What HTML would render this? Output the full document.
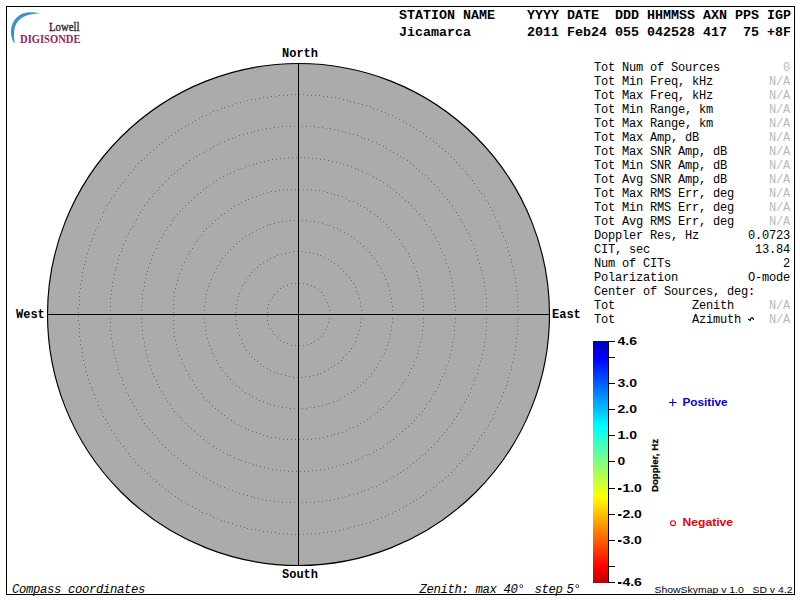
<!DOCTYPE html>
<html><head><meta charset="utf-8"><style>
html,body{margin:0;padding:0;background:#fff;width:800px;height:600px;overflow:hidden}
svg{display:block}
.m{font-family:"Liberation Mono",monospace;font-size:12px;letter-spacing:-0.2px;fill:#000}
.hb{font-family:"Liberation Mono",monospace;font-size:13.33px;font-weight:bold;fill:#000}
.cmp{font-family:"Liberation Mono",monospace;font-size:12px;font-weight:bold;fill:#000}
.cl{font-family:"Liberation Sans",sans-serif;font-size:11px;font-weight:bold;fill:#000}
.it{font-family:"Liberation Mono",monospace;font-size:12.3px;letter-spacing:-0.38px;font-style:italic;fill:#000}
.sm{font-family:"Liberation Sans",sans-serif;font-size:9.6px;fill:#000}
</style></head><body>
<svg width="800" height="600" viewBox="0 0 800 600">
<defs>
<linearGradient id="jet" x1="0" y1="0" x2="0" y2="1">
<stop offset="0" stop-color="#0000c0"/>
<stop offset="0.07" stop-color="#0000ff"/>
<stop offset="0.355" stop-color="#00ffff"/>
<stop offset="0.5" stop-color="#80ff80"/>
<stop offset="0.645" stop-color="#ffff00"/>
<stop offset="0.93" stop-color="#ff0000"/>
<stop offset="1" stop-color="#c00000"/>
</linearGradient>
</defs>
<rect x="6.5" y="6.5" width="788" height="588" fill="none" stroke="#000" stroke-width="1"/>
<!-- logo -->
<path d="M40,13.6 C31,11 21.5,12.3 16.5,17.8 C12,22.3 10.7,28.5 11,33 C11.2,37 12.3,40.5 14.3,43.2 L14.7,43.2 C14.1,39 13.9,35 14.3,30.5 C15,24.5 18.5,19.8 22.7,17.3 C27.5,14.5 33,13.8 40,13.6 Z" fill="#3a95c3"/>
<text x="49" y="31.4" textLength="30.5" lengthAdjust="spacingAndGlyphs" style="font-family:'Liberation Serif',serif;font-size:12px;fill:#2c2830;stroke:#2c2830;stroke-width:0.35px">Lowell</text>
<text x="20" y="43.4" textLength="60.5" lengthAdjust="spacingAndGlyphs" style="font-family:'Liberation Serif',serif;font-size:11.5px;font-weight:bold;fill:#991f5c">DIGISONDE</text>
<!-- header -->
<text x="399" y="19" class="hb">STATION&#160;NAME&#160;&#160;&#160;&#160;YYYY&#160;DATE&#160;&#160;DDD&#160;HHMMSS&#160;AXN&#160;PPS&#160;IGP</text>
<text x="399" y="36" class="hb">Jicamarca&#160;&#160;&#160;&#160;&#160;&#160;&#160;2011&#160;Feb24&#160;055&#160;042528&#160;417&#160;&#160;75&#160;+8F</text>
<!-- skymap -->
<circle cx="298.5" cy="314.5" r="251" fill="#ababab" stroke="none"/>
<path fill="#6e6e6e" d="M329,318h1v1h-1zM328,322h1v1h-1zM327,326h1v1h-1zM325,329h1v1h-1zM323,333h1v1h-1zM321,336h1v1h-1zM318,339h1v1h-1zM314,341h1v1h-1zM311,343h1v1h-1zM307,344h1v1h-1zM303,345h1v1h-1zM299,345h1v1h-1zM295,345h1v1h-1zM291,345h1v1h-1zM287,343h1v1h-1zM283,342h1v1h-1zM280,340h1v1h-1zM277,337h1v1h-1zM274,334h1v1h-1zM272,331h1v1h-1zM270,328h1v1h-1zM268,324h1v1h-1zM267,320h1v1h-1zM267,316h1v1h-1zM267,312h1v1h-1zM267,308h1v1h-1zM268,304h1v1h-1zM270,300h1v1h-1zM272,297h1v1h-1zM274,294h1v1h-1zM277,291h1v1h-1zM280,288h1v1h-1zM283,286h1v1h-1zM287,285h1v1h-1zM291,283h1v1h-1zM295,283h1v1h-1zM299,283h1v1h-1zM303,283h1v1h-1zM307,284h1v1h-1zM311,285h1v1h-1zM314,287h1v1h-1zM318,289h1v1h-1zM321,292h1v1h-1zM323,295h1v1h-1zM325,299h1v1h-1zM327,302h1v1h-1zM328,306h1v1h-1zM329,310h1v1h-1zM361,318h1v1h-1zM360,322h1v1h-1zM360,326h1v1h-1zM359,330h1v1h-1zM358,334h1v1h-1zM356,337h1v1h-1zM355,341h1v1h-1zM353,345h1v1h-1zM351,348h1v1h-1zM349,351h1v1h-1zM346,354h1v1h-1zM343,357h1v1h-1zM341,360h1v1h-1zM338,363h1v1h-1zM334,365h1v1h-1zM331,367h1v1h-1zM328,369h1v1h-1zM324,371h1v1h-1zM320,373h1v1h-1zM317,374h1v1h-1zM313,375h1v1h-1zM309,376h1v1h-1zM305,376h1v1h-1zM301,377h1v1h-1zM297,377h1v1h-1zM293,377h1v1h-1zM289,376h1v1h-1zM285,375h1v1h-1zM281,374h1v1h-1zM277,373h1v1h-1zM274,372h1v1h-1zM270,370h1v1h-1zM267,368h1v1h-1zM263,366h1v1h-1zM260,364h1v1h-1zM257,361h1v1h-1zM254,359h1v1h-1zM251,356h1v1h-1zM249,353h1v1h-1zM246,350h1v1h-1zM244,346h1v1h-1zM242,343h1v1h-1zM241,339h1v1h-1zM239,335h1v1h-1zM238,332h1v1h-1zM237,328h1v1h-1zM236,324h1v1h-1zM236,320h1v1h-1zM235,316h1v1h-1zM235,312h1v1h-1zM236,308h1v1h-1zM236,304h1v1h-1zM237,300h1v1h-1zM238,296h1v1h-1zM239,293h1v1h-1zM241,289h1v1h-1zM242,285h1v1h-1zM244,282h1v1h-1zM246,278h1v1h-1zM249,275h1v1h-1zM251,272h1v1h-1zM254,269h1v1h-1zM257,267h1v1h-1zM260,264h1v1h-1zM263,262h1v1h-1zM267,260h1v1h-1zM270,258h1v1h-1zM274,256h1v1h-1zM277,255h1v1h-1zM281,254h1v1h-1zM285,253h1v1h-1zM289,252h1v1h-1zM293,251h1v1h-1zM297,251h1v1h-1zM301,251h1v1h-1zM305,252h1v1h-1zM309,252h1v1h-1zM313,253h1v1h-1zM317,254h1v1h-1zM320,255h1v1h-1zM324,257h1v1h-1zM328,259h1v1h-1zM331,261h1v1h-1zM334,263h1v1h-1zM338,265h1v1h-1zM341,268h1v1h-1zM343,271h1v1h-1zM346,274h1v1h-1zM349,277h1v1h-1zM351,280h1v1h-1zM353,283h1v1h-1zM355,287h1v1h-1zM356,291h1v1h-1zM358,294h1v1h-1zM359,298h1v1h-1zM360,302h1v1h-1zM360,306h1v1h-1zM361,310h1v1h-1zM392,318h1v1h-1zM392,322h1v1h-1zM391,326h1v1h-1zM391,330h1v1h-1zM390,334h1v1h-1zM389,338h1v1h-1zM388,342h1v1h-1zM387,345h1v1h-1zM385,349h1v1h-1zM384,353h1v1h-1zM382,356h1v1h-1zM380,360h1v1h-1zM378,363h1v1h-1zM376,367h1v1h-1zM374,370h1v1h-1zM371,373h1v1h-1zM369,376h1v1h-1zM366,379h1v1h-1zM363,382h1v1h-1zM360,385h1v1h-1zM357,387h1v1h-1zM354,390h1v1h-1zM351,392h1v1h-1zM347,394h1v1h-1zM344,396h1v1h-1zM340,398h1v1h-1zM337,400h1v1h-1zM333,401h1v1h-1zM329,403h1v1h-1zM326,404h1v1h-1zM322,405h1v1h-1zM318,406h1v1h-1zM314,407h1v1h-1zM310,407h1v1h-1zM306,408h1v1h-1zM302,408h1v1h-1zM294,408h1v1h-1zM290,408h1v1h-1zM286,407h1v1h-1zM282,407h1v1h-1zM278,406h1v1h-1zM274,405h1v1h-1zM270,404h1v1h-1zM267,403h1v1h-1zM263,401h1v1h-1zM259,400h1v1h-1zM256,398h1v1h-1zM252,396h1v1h-1zM249,394h1v1h-1zM245,392h1v1h-1zM242,390h1v1h-1zM239,387h1v1h-1zM236,385h1v1h-1zM233,382h1v1h-1zM230,379h1v1h-1zM227,376h1v1h-1zM225,373h1v1h-1zM222,370h1v1h-1zM220,367h1v1h-1zM218,363h1v1h-1zM216,360h1v1h-1zM214,356h1v1h-1zM212,353h1v1h-1zM211,349h1v1h-1zM209,345h1v1h-1zM208,342h1v1h-1zM207,338h1v1h-1zM206,334h1v1h-1zM205,330h1v1h-1zM205,326h1v1h-1zM204,322h1v1h-1zM204,318h1v1h-1zM204,310h1v1h-1zM204,306h1v1h-1zM205,302h1v1h-1zM205,298h1v1h-1zM206,294h1v1h-1zM207,290h1v1h-1zM208,286h1v1h-1zM209,283h1v1h-1zM211,279h1v1h-1zM212,275h1v1h-1zM214,272h1v1h-1zM216,268h1v1h-1zM218,265h1v1h-1zM220,261h1v1h-1zM222,258h1v1h-1zM225,255h1v1h-1zM227,252h1v1h-1zM230,249h1v1h-1zM233,246h1v1h-1zM236,243h1v1h-1zM239,241h1v1h-1zM242,238h1v1h-1zM245,236h1v1h-1zM249,234h1v1h-1zM252,232h1v1h-1zM256,230h1v1h-1zM259,228h1v1h-1zM263,227h1v1h-1zM267,225h1v1h-1zM270,224h1v1h-1zM274,223h1v1h-1zM278,222h1v1h-1zM282,221h1v1h-1zM286,221h1v1h-1zM290,220h1v1h-1zM294,220h1v1h-1zM302,220h1v1h-1zM306,220h1v1h-1zM310,221h1v1h-1zM314,221h1v1h-1zM318,222h1v1h-1zM322,223h1v1h-1zM326,224h1v1h-1zM329,225h1v1h-1zM333,227h1v1h-1zM337,228h1v1h-1zM340,230h1v1h-1zM344,232h1v1h-1zM347,234h1v1h-1zM351,236h1v1h-1zM354,238h1v1h-1zM357,241h1v1h-1zM360,243h1v1h-1zM363,246h1v1h-1zM366,249h1v1h-1zM369,252h1v1h-1zM371,255h1v1h-1zM374,258h1v1h-1zM376,261h1v1h-1zM378,265h1v1h-1zM380,268h1v1h-1zM382,272h1v1h-1zM384,275h1v1h-1zM385,279h1v1h-1zM387,283h1v1h-1zM388,286h1v1h-1zM389,290h1v1h-1zM390,294h1v1h-1zM391,298h1v1h-1zM391,302h1v1h-1zM392,306h1v1h-1zM392,310h1v1h-1zM423,318h1v1h-1zM423,322h1v1h-1zM423,326h1v1h-1zM422,330h1v1h-1zM422,334h1v1h-1zM421,338h1v1h-1zM420,342h1v1h-1zM419,346h1v1h-1zM418,350h1v1h-1zM417,353h1v1h-1zM416,357h1v1h-1zM414,361h1v1h-1zM413,365h1v1h-1zM411,368h1v1h-1zM409,372h1v1h-1zM408,375h1v1h-1zM405,379h1v1h-1zM403,382h1v1h-1zM401,385h1v1h-1zM399,389h1v1h-1zM396,392h1v1h-1zM394,395h1v1h-1zM391,398h1v1h-1zM388,401h1v1h-1zM386,404h1v1h-1zM383,407h1v1h-1zM380,409h1v1h-1zM377,412h1v1h-1zM374,414h1v1h-1zM370,417h1v1h-1zM367,419h1v1h-1zM364,421h1v1h-1zM360,423h1v1h-1zM357,425h1v1h-1zM353,427h1v1h-1zM349,428h1v1h-1zM346,430h1v1h-1zM342,432h1v1h-1zM338,433h1v1h-1zM334,434h1v1h-1zM331,435h1v1h-1zM327,436h1v1h-1zM323,437h1v1h-1zM319,438h1v1h-1zM315,438h1v1h-1zM311,439h1v1h-1zM307,439h1v1h-1zM303,439h1v1h-1zM299,439h1v1h-1zM295,439h1v1h-1zM291,439h1v1h-1zM287,439h1v1h-1zM283,439h1v1h-1zM279,438h1v1h-1zM275,437h1v1h-1zM271,437h1v1h-1zM267,436h1v1h-1zM263,435h1v1h-1zM260,433h1v1h-1zM256,432h1v1h-1zM252,431h1v1h-1zM248,429h1v1h-1zM245,428h1v1h-1zM241,426h1v1h-1zM238,424h1v1h-1zM234,422h1v1h-1zM231,420h1v1h-1zM227,418h1v1h-1zM224,415h1v1h-1zM221,413h1v1h-1zM218,410h1v1h-1zM215,408h1v1h-1zM212,405h1v1h-1zM209,402h1v1h-1zM206,400h1v1h-1zM203,397h1v1h-1zM201,393h1v1h-1zM198,390h1v1h-1zM196,387h1v1h-1zM194,384h1v1h-1zM192,380h1v1h-1zM189,377h1v1h-1zM188,374h1v1h-1zM186,370h1v1h-1zM184,366h1v1h-1zM182,363h1v1h-1zM181,359h1v1h-1zM179,355h1v1h-1zM178,351h1v1h-1zM177,348h1v1h-1zM176,344h1v1h-1zM175,340h1v1h-1zM174,336h1v1h-1zM174,332h1v1h-1zM173,328h1v1h-1zM173,324h1v1h-1zM173,320h1v1h-1zM173,316h1v1h-1zM173,312h1v1h-1zM173,308h1v1h-1zM173,304h1v1h-1zM173,300h1v1h-1zM174,296h1v1h-1zM174,292h1v1h-1zM175,288h1v1h-1zM176,284h1v1h-1zM177,280h1v1h-1zM178,277h1v1h-1zM179,273h1v1h-1zM181,269h1v1h-1zM182,265h1v1h-1zM184,262h1v1h-1zM186,258h1v1h-1zM188,254h1v1h-1zM189,251h1v1h-1zM192,248h1v1h-1zM194,244h1v1h-1zM196,241h1v1h-1zM198,238h1v1h-1zM201,235h1v1h-1zM203,231h1v1h-1zM206,228h1v1h-1zM209,226h1v1h-1zM212,223h1v1h-1zM215,220h1v1h-1zM218,218h1v1h-1zM221,215h1v1h-1zM224,213h1v1h-1zM227,210h1v1h-1zM231,208h1v1h-1zM234,206h1v1h-1zM238,204h1v1h-1zM241,202h1v1h-1zM245,200h1v1h-1zM248,199h1v1h-1zM252,197h1v1h-1zM256,196h1v1h-1zM260,195h1v1h-1zM263,193h1v1h-1zM267,192h1v1h-1zM271,191h1v1h-1zM275,191h1v1h-1zM279,190h1v1h-1zM283,189h1v1h-1zM287,189h1v1h-1zM291,189h1v1h-1zM295,189h1v1h-1zM299,189h1v1h-1zM303,189h1v1h-1zM307,189h1v1h-1zM311,189h1v1h-1zM315,190h1v1h-1zM319,190h1v1h-1zM323,191h1v1h-1zM327,192h1v1h-1zM331,193h1v1h-1zM334,194h1v1h-1zM338,195h1v1h-1zM342,196h1v1h-1zM346,198h1v1h-1zM349,200h1v1h-1zM353,201h1v1h-1zM357,203h1v1h-1zM360,205h1v1h-1zM364,207h1v1h-1zM367,209h1v1h-1zM370,211h1v1h-1zM374,214h1v1h-1zM377,216h1v1h-1zM380,219h1v1h-1zM383,221h1v1h-1zM386,224h1v1h-1zM388,227h1v1h-1zM391,230h1v1h-1zM394,233h1v1h-1zM396,236h1v1h-1zM399,239h1v1h-1zM401,243h1v1h-1zM403,246h1v1h-1zM405,249h1v1h-1zM408,253h1v1h-1zM409,256h1v1h-1zM411,260h1v1h-1zM413,263h1v1h-1zM414,267h1v1h-1zM416,271h1v1h-1zM417,275h1v1h-1zM418,278h1v1h-1zM419,282h1v1h-1zM420,286h1v1h-1zM421,290h1v1h-1zM422,294h1v1h-1zM422,298h1v1h-1zM423,302h1v1h-1zM423,306h1v1h-1zM423,310h1v1h-1zM455,318h1v1h-1zM455,322h1v1h-1zM454,326h1v1h-1zM454,330h1v1h-1zM454,334h1v1h-1zM453,338h1v1h-1zM452,342h1v1h-1zM452,346h1v1h-1zM451,350h1v1h-1zM450,354h1v1h-1zM449,357h1v1h-1zM448,361h1v1h-1zM446,365h1v1h-1zM445,369h1v1h-1zM444,373h1v1h-1zM442,376h1v1h-1zM440,380h1v1h-1zM439,384h1v1h-1zM437,387h1v1h-1zM435,391h1v1h-1zM433,394h1v1h-1zM431,398h1v1h-1zM429,401h1v1h-1zM426,404h1v1h-1zM424,408h1v1h-1zM422,411h1v1h-1zM419,414h1v1h-1zM416,417h1v1h-1zM414,420h1v1h-1zM411,423h1v1h-1zM408,426h1v1h-1zM405,428h1v1h-1zM402,431h1v1h-1zM399,434h1v1h-1zM396,436h1v1h-1zM393,439h1v1h-1zM390,441h1v1h-1zM387,443h1v1h-1zM383,446h1v1h-1zM380,448h1v1h-1zM376,450h1v1h-1zM373,452h1v1h-1zM369,454h1v1h-1zM366,455h1v1h-1zM362,457h1v1h-1zM358,459h1v1h-1zM355,460h1v1h-1zM351,462h1v1h-1zM347,463h1v1h-1zM343,464h1v1h-1zM340,465h1v1h-1zM336,466h1v1h-1zM332,467h1v1h-1zM328,468h1v1h-1zM324,469h1v1h-1zM320,469h1v1h-1zM316,470h1v1h-1zM312,470h1v1h-1zM308,471h1v1h-1zM304,471h1v1h-1zM300,471h1v1h-1zM296,471h1v1h-1zM292,471h1v1h-1zM288,471h1v1h-1zM284,470h1v1h-1zM280,470h1v1h-1zM276,469h1v1h-1zM272,469h1v1h-1zM268,468h1v1h-1zM264,467h1v1h-1zM260,466h1v1h-1zM256,465h1v1h-1zM253,464h1v1h-1zM249,463h1v1h-1zM245,462h1v1h-1zM241,460h1v1h-1zM238,459h1v1h-1zM234,457h1v1h-1zM230,455h1v1h-1zM227,454h1v1h-1zM223,452h1v1h-1zM220,450h1v1h-1zM216,448h1v1h-1zM213,446h1v1h-1zM209,443h1v1h-1zM206,441h1v1h-1zM203,439h1v1h-1zM200,436h1v1h-1zM197,434h1v1h-1zM194,431h1v1h-1zM191,428h1v1h-1zM188,426h1v1h-1zM185,423h1v1h-1zM182,420h1v1h-1zM180,417h1v1h-1zM177,414h1v1h-1zM174,411h1v1h-1zM172,408h1v1h-1zM170,404h1v1h-1zM167,401h1v1h-1zM165,398h1v1h-1zM163,394h1v1h-1zM161,391h1v1h-1zM159,387h1v1h-1zM157,384h1v1h-1zM156,380h1v1h-1zM154,376h1v1h-1zM152,373h1v1h-1zM151,369h1v1h-1zM150,365h1v1h-1zM148,361h1v1h-1zM147,357h1v1h-1zM146,354h1v1h-1zM145,350h1v1h-1zM144,346h1v1h-1zM144,342h1v1h-1zM143,338h1v1h-1zM142,334h1v1h-1zM142,330h1v1h-1zM142,326h1v1h-1zM141,322h1v1h-1zM141,318h1v1h-1zM141,310h1v1h-1zM141,306h1v1h-1zM142,302h1v1h-1zM142,298h1v1h-1zM142,294h1v1h-1zM143,290h1v1h-1zM144,286h1v1h-1zM144,282h1v1h-1zM145,278h1v1h-1zM146,274h1v1h-1zM147,271h1v1h-1zM148,267h1v1h-1zM150,263h1v1h-1zM151,259h1v1h-1zM152,255h1v1h-1zM154,252h1v1h-1zM156,248h1v1h-1zM157,244h1v1h-1zM159,241h1v1h-1zM161,237h1v1h-1zM163,234h1v1h-1zM165,230h1v1h-1zM167,227h1v1h-1zM170,224h1v1h-1zM172,220h1v1h-1zM174,217h1v1h-1zM177,214h1v1h-1zM180,211h1v1h-1zM182,208h1v1h-1zM185,205h1v1h-1zM188,202h1v1h-1zM191,200h1v1h-1zM194,197h1v1h-1zM197,194h1v1h-1zM200,192h1v1h-1zM203,189h1v1h-1zM206,187h1v1h-1zM209,185h1v1h-1zM213,182h1v1h-1zM216,180h1v1h-1zM220,178h1v1h-1zM223,176h1v1h-1zM227,174h1v1h-1zM230,173h1v1h-1zM234,171h1v1h-1zM238,169h1v1h-1zM241,168h1v1h-1zM245,166h1v1h-1zM249,165h1v1h-1zM253,164h1v1h-1zM256,163h1v1h-1zM260,162h1v1h-1zM264,161h1v1h-1zM268,160h1v1h-1zM272,159h1v1h-1zM276,159h1v1h-1zM280,158h1v1h-1zM284,158h1v1h-1zM288,157h1v1h-1zM292,157h1v1h-1zM296,157h1v1h-1zM300,157h1v1h-1zM304,157h1v1h-1zM308,157h1v1h-1zM312,158h1v1h-1zM316,158h1v1h-1zM320,159h1v1h-1zM324,159h1v1h-1zM328,160h1v1h-1zM332,161h1v1h-1zM336,162h1v1h-1zM340,163h1v1h-1zM343,164h1v1h-1zM347,165h1v1h-1zM351,166h1v1h-1zM355,168h1v1h-1zM358,169h1v1h-1zM362,171h1v1h-1zM366,173h1v1h-1zM369,174h1v1h-1zM373,176h1v1h-1zM376,178h1v1h-1zM380,180h1v1h-1zM383,182h1v1h-1zM387,185h1v1h-1zM390,187h1v1h-1zM393,189h1v1h-1zM396,192h1v1h-1zM399,194h1v1h-1zM402,197h1v1h-1zM405,200h1v1h-1zM408,202h1v1h-1zM411,205h1v1h-1zM414,208h1v1h-1zM416,211h1v1h-1zM419,214h1v1h-1zM422,217h1v1h-1zM424,220h1v1h-1zM426,224h1v1h-1zM429,227h1v1h-1zM431,230h1v1h-1zM433,234h1v1h-1zM435,237h1v1h-1zM437,241h1v1h-1zM439,244h1v1h-1zM440,248h1v1h-1zM442,252h1v1h-1zM444,255h1v1h-1zM445,259h1v1h-1zM446,263h1v1h-1zM448,267h1v1h-1zM449,271h1v1h-1zM450,274h1v1h-1zM451,278h1v1h-1zM452,282h1v1h-1zM452,286h1v1h-1zM453,290h1v1h-1zM454,294h1v1h-1zM454,298h1v1h-1zM454,302h1v1h-1zM455,306h1v1h-1zM455,310h1v1h-1zM486,318h1v1h-1zM486,322h1v1h-1zM486,326h1v1h-1zM486,330h1v1h-1zM485,334h1v1h-1zM485,338h1v1h-1zM484,342h1v1h-1zM484,346h1v1h-1zM483,350h1v1h-1zM482,354h1v1h-1zM481,358h1v1h-1zM480,361h1v1h-1zM479,365h1v1h-1zM478,369h1v1h-1zM477,373h1v1h-1zM475,377h1v1h-1zM474,380h1v1h-1zM473,384h1v1h-1zM471,388h1v1h-1zM470,392h1v1h-1zM468,395h1v1h-1zM466,399h1v1h-1zM464,402h1v1h-1zM462,406h1v1h-1zM460,409h1v1h-1zM458,413h1v1h-1zM456,416h1v1h-1zM454,419h1v1h-1zM452,423h1v1h-1zM449,426h1v1h-1zM447,429h1v1h-1zM444,432h1v1h-1zM442,435h1v1h-1zM439,438h1v1h-1zM437,441h1v1h-1zM434,444h1v1h-1zM431,447h1v1h-1zM428,450h1v1h-1zM425,453h1v1h-1zM422,455h1v1h-1zM419,458h1v1h-1zM416,460h1v1h-1zM413,463h1v1h-1zM410,465h1v1h-1zM407,468h1v1h-1zM403,470h1v1h-1zM400,472h1v1h-1zM397,474h1v1h-1zM393,476h1v1h-1zM390,478h1v1h-1zM386,480h1v1h-1zM383,482h1v1h-1zM379,484h1v1h-1zM376,486h1v1h-1zM372,487h1v1h-1zM368,489h1v1h-1zM364,490h1v1h-1zM361,491h1v1h-1zM357,493h1v1h-1zM353,494h1v1h-1zM349,495h1v1h-1zM345,496h1v1h-1zM342,497h1v1h-1zM338,498h1v1h-1zM334,499h1v1h-1zM330,500h1v1h-1zM326,500h1v1h-1zM322,501h1v1h-1zM318,501h1v1h-1zM314,502h1v1h-1zM310,502h1v1h-1zM306,502h1v1h-1zM302,502h1v1h-1zM294,502h1v1h-1zM290,502h1v1h-1zM286,502h1v1h-1zM282,502h1v1h-1zM278,501h1v1h-1zM274,501h1v1h-1zM270,500h1v1h-1zM266,500h1v1h-1zM262,499h1v1h-1zM258,498h1v1h-1zM254,497h1v1h-1zM251,496h1v1h-1zM247,495h1v1h-1zM243,494h1v1h-1zM239,493h1v1h-1zM235,491h1v1h-1zM232,490h1v1h-1zM228,489h1v1h-1zM224,487h1v1h-1zM220,486h1v1h-1zM217,484h1v1h-1zM213,482h1v1h-1zM210,480h1v1h-1zM206,478h1v1h-1zM203,476h1v1h-1zM199,474h1v1h-1zM196,472h1v1h-1zM193,470h1v1h-1zM189,468h1v1h-1zM186,465h1v1h-1zM183,463h1v1h-1zM180,460h1v1h-1zM177,458h1v1h-1zM174,455h1v1h-1zM171,453h1v1h-1zM168,450h1v1h-1zM165,447h1v1h-1zM162,444h1v1h-1zM159,441h1v1h-1zM157,438h1v1h-1zM154,435h1v1h-1zM152,432h1v1h-1zM149,429h1v1h-1zM147,426h1v1h-1zM144,423h1v1h-1zM142,419h1v1h-1zM140,416h1v1h-1zM138,413h1v1h-1zM136,409h1v1h-1zM134,406h1v1h-1zM132,402h1v1h-1zM130,399h1v1h-1zM128,395h1v1h-1zM126,392h1v1h-1zM125,388h1v1h-1zM123,384h1v1h-1zM122,380h1v1h-1zM121,377h1v1h-1zM119,373h1v1h-1zM118,369h1v1h-1zM117,365h1v1h-1zM116,361h1v1h-1zM115,358h1v1h-1zM114,354h1v1h-1zM113,350h1v1h-1zM112,346h1v1h-1zM112,342h1v1h-1zM111,338h1v1h-1zM111,334h1v1h-1zM110,330h1v1h-1zM110,326h1v1h-1zM110,322h1v1h-1zM110,318h1v1h-1zM110,310h1v1h-1zM110,306h1v1h-1zM110,302h1v1h-1zM110,298h1v1h-1zM111,294h1v1h-1zM111,290h1v1h-1zM112,286h1v1h-1zM112,282h1v1h-1zM113,278h1v1h-1zM114,274h1v1h-1zM115,270h1v1h-1zM116,267h1v1h-1zM117,263h1v1h-1zM118,259h1v1h-1zM119,255h1v1h-1zM121,251h1v1h-1zM122,248h1v1h-1zM123,244h1v1h-1zM125,240h1v1h-1zM126,236h1v1h-1zM128,233h1v1h-1zM130,229h1v1h-1zM132,226h1v1h-1zM134,222h1v1h-1zM136,219h1v1h-1zM138,215h1v1h-1zM140,212h1v1h-1zM142,209h1v1h-1zM144,205h1v1h-1zM147,202h1v1h-1zM149,199h1v1h-1zM152,196h1v1h-1zM154,193h1v1h-1zM157,190h1v1h-1zM159,187h1v1h-1zM162,184h1v1h-1zM165,181h1v1h-1zM168,178h1v1h-1zM171,175h1v1h-1zM174,173h1v1h-1zM177,170h1v1h-1zM180,168h1v1h-1zM183,165h1v1h-1zM186,163h1v1h-1zM189,160h1v1h-1zM193,158h1v1h-1zM196,156h1v1h-1zM199,154h1v1h-1zM203,152h1v1h-1zM206,150h1v1h-1zM210,148h1v1h-1zM213,146h1v1h-1zM217,144h1v1h-1zM220,142h1v1h-1zM224,141h1v1h-1zM228,139h1v1h-1zM232,138h1v1h-1zM235,137h1v1h-1zM239,135h1v1h-1zM243,134h1v1h-1zM247,133h1v1h-1zM251,132h1v1h-1zM254,131h1v1h-1zM258,130h1v1h-1zM262,129h1v1h-1zM266,128h1v1h-1zM270,128h1v1h-1zM274,127h1v1h-1zM278,127h1v1h-1zM282,126h1v1h-1zM286,126h1v1h-1zM290,126h1v1h-1zM294,126h1v1h-1zM302,126h1v1h-1zM306,126h1v1h-1zM310,126h1v1h-1zM314,126h1v1h-1zM318,127h1v1h-1zM322,127h1v1h-1zM326,128h1v1h-1zM330,128h1v1h-1zM334,129h1v1h-1zM338,130h1v1h-1zM342,131h1v1h-1zM345,132h1v1h-1zM349,133h1v1h-1zM353,134h1v1h-1zM357,135h1v1h-1zM361,137h1v1h-1zM364,138h1v1h-1zM368,139h1v1h-1zM372,141h1v1h-1zM376,142h1v1h-1zM379,144h1v1h-1zM383,146h1v1h-1zM386,148h1v1h-1zM390,150h1v1h-1zM393,152h1v1h-1zM397,154h1v1h-1zM400,156h1v1h-1zM403,158h1v1h-1zM407,160h1v1h-1zM410,163h1v1h-1zM413,165h1v1h-1zM416,168h1v1h-1zM419,170h1v1h-1zM422,173h1v1h-1zM425,175h1v1h-1zM428,178h1v1h-1zM431,181h1v1h-1zM434,184h1v1h-1zM437,187h1v1h-1zM439,190h1v1h-1zM442,193h1v1h-1zM444,196h1v1h-1zM447,199h1v1h-1zM449,202h1v1h-1zM452,205h1v1h-1zM454,209h1v1h-1zM456,212h1v1h-1zM458,215h1v1h-1zM460,219h1v1h-1zM462,222h1v1h-1zM464,226h1v1h-1zM466,229h1v1h-1zM468,233h1v1h-1zM470,236h1v1h-1zM471,240h1v1h-1zM473,244h1v1h-1zM474,248h1v1h-1zM475,251h1v1h-1zM477,255h1v1h-1zM478,259h1v1h-1zM479,263h1v1h-1zM480,267h1v1h-1zM481,270h1v1h-1zM482,274h1v1h-1zM483,278h1v1h-1zM484,282h1v1h-1zM484,286h1v1h-1zM485,290h1v1h-1zM485,294h1v1h-1zM486,298h1v1h-1zM486,302h1v1h-1zM486,306h1v1h-1zM486,310h1v1h-1zM518,318h1v1h-1zM517,322h1v1h-1zM517,326h1v1h-1zM517,330h1v1h-1zM517,334h1v1h-1zM516,338h1v1h-1zM516,342h1v1h-1zM515,346h1v1h-1zM515,350h1v1h-1zM514,354h1v1h-1zM513,358h1v1h-1zM512,362h1v1h-1zM511,366h1v1h-1zM511,369h1v1h-1zM509,373h1v1h-1zM508,377h1v1h-1zM507,381h1v1h-1zM506,385h1v1h-1zM505,388h1v1h-1zM503,392h1v1h-1zM502,396h1v1h-1zM500,400h1v1h-1zM499,403h1v1h-1zM497,407h1v1h-1zM495,411h1v1h-1zM493,414h1v1h-1zM492,418h1v1h-1zM490,421h1v1h-1zM488,425h1v1h-1zM486,428h1v1h-1zM484,432h1v1h-1zM481,435h1v1h-1zM479,438h1v1h-1zM477,441h1v1h-1zM474,445h1v1h-1zM472,448h1v1h-1zM470,451h1v1h-1zM467,454h1v1h-1zM465,457h1v1h-1zM462,460h1v1h-1zM459,463h1v1h-1zM456,466h1v1h-1zM454,469h1v1h-1zM451,472h1v1h-1zM448,475h1v1h-1zM445,477h1v1h-1zM442,480h1v1h-1zM439,482h1v1h-1zM436,485h1v1h-1zM433,487h1v1h-1zM430,490h1v1h-1zM426,492h1v1h-1zM423,495h1v1h-1zM420,497h1v1h-1zM416,499h1v1h-1zM413,501h1v1h-1zM410,503h1v1h-1zM406,505h1v1h-1zM403,507h1v1h-1zM399,509h1v1h-1zM395,511h1v1h-1zM392,513h1v1h-1zM388,514h1v1h-1zM385,516h1v1h-1zM381,517h1v1h-1zM377,519h1v1h-1zM373,520h1v1h-1zM370,522h1v1h-1zM366,523h1v1h-1zM362,524h1v1h-1zM358,525h1v1h-1zM354,526h1v1h-1zM350,527h1v1h-1zM347,528h1v1h-1zM343,529h1v1h-1zM339,530h1v1h-1zM335,531h1v1h-1zM331,531h1v1h-1zM327,532h1v1h-1zM323,532h1v1h-1zM319,533h1v1h-1zM315,533h1v1h-1zM311,533h1v1h-1zM307,533h1v1h-1zM303,534h1v1h-1zM299,534h1v1h-1zM295,534h1v1h-1zM291,534h1v1h-1zM287,533h1v1h-1zM283,533h1v1h-1zM279,533h1v1h-1zM275,532h1v1h-1zM271,532h1v1h-1zM267,531h1v1h-1zM263,531h1v1h-1zM259,530h1v1h-1zM255,529h1v1h-1zM251,529h1v1h-1zM247,528h1v1h-1zM244,527h1v1h-1zM240,526h1v1h-1zM236,525h1v1h-1zM232,523h1v1h-1zM228,522h1v1h-1zM224,521h1v1h-1zM221,520h1v1h-1zM217,518h1v1h-1zM213,517h1v1h-1zM210,515h1v1h-1zM206,513h1v1h-1zM202,512h1v1h-1zM199,510h1v1h-1zM195,508h1v1h-1zM192,506h1v1h-1zM188,504h1v1h-1zM185,502h1v1h-1zM181,500h1v1h-1zM178,498h1v1h-1zM175,496h1v1h-1zM171,493h1v1h-1zM168,491h1v1h-1zM165,489h1v1h-1zM162,486h1v1h-1zM159,484h1v1h-1zM156,481h1v1h-1zM153,479h1v1h-1zM150,476h1v1h-1zM147,473h1v1h-1zM144,470h1v1h-1zM141,468h1v1h-1zM138,465h1v1h-1zM135,462h1v1h-1zM133,459h1v1h-1zM130,456h1v1h-1zM128,453h1v1h-1zM125,449h1v1h-1zM123,446h1v1h-1zM120,443h1v1h-1zM118,440h1v1h-1zM116,437h1v1h-1zM114,433h1v1h-1zM111,430h1v1h-1zM109,426h1v1h-1zM107,423h1v1h-1zM105,419h1v1h-1zM103,416h1v1h-1zM102,412h1v1h-1zM100,409h1v1h-1zM98,405h1v1h-1zM97,401h1v1h-1zM95,398h1v1h-1zM94,394h1v1h-1zM92,390h1v1h-1zM91,387h1v1h-1zM89,383h1v1h-1zM88,379h1v1h-1zM87,375h1v1h-1zM86,371h1v1h-1zM85,367h1v1h-1zM84,364h1v1h-1zM83,360h1v1h-1zM82,356h1v1h-1zM82,352h1v1h-1zM81,348h1v1h-1zM80,344h1v1h-1zM80,340h1v1h-1zM79,336h1v1h-1zM79,332h1v1h-1zM79,328h1v1h-1zM79,324h1v1h-1zM78,320h1v1h-1zM78,316h1v1h-1zM78,312h1v1h-1zM78,308h1v1h-1zM79,304h1v1h-1zM79,300h1v1h-1zM79,296h1v1h-1zM79,292h1v1h-1zM80,288h1v1h-1zM80,284h1v1h-1zM81,280h1v1h-1zM82,276h1v1h-1zM82,272h1v1h-1zM83,268h1v1h-1zM84,264h1v1h-1zM85,261h1v1h-1zM86,257h1v1h-1zM87,253h1v1h-1zM88,249h1v1h-1zM89,245h1v1h-1zM91,241h1v1h-1zM92,238h1v1h-1zM94,234h1v1h-1zM95,230h1v1h-1zM97,227h1v1h-1zM98,223h1v1h-1zM100,219h1v1h-1zM102,216h1v1h-1zM103,212h1v1h-1zM105,209h1v1h-1zM107,205h1v1h-1zM109,202h1v1h-1zM111,198h1v1h-1zM114,195h1v1h-1zM116,191h1v1h-1zM118,188h1v1h-1zM120,185h1v1h-1zM123,182h1v1h-1zM125,179h1v1h-1zM128,175h1v1h-1zM130,172h1v1h-1zM133,169h1v1h-1zM135,166h1v1h-1zM138,163h1v1h-1zM141,160h1v1h-1zM144,158h1v1h-1zM147,155h1v1h-1zM150,152h1v1h-1zM153,149h1v1h-1zM156,147h1v1h-1zM159,144h1v1h-1zM162,142h1v1h-1zM165,139h1v1h-1zM168,137h1v1h-1zM171,135h1v1h-1zM175,132h1v1h-1zM178,130h1v1h-1zM181,128h1v1h-1zM185,126h1v1h-1zM188,124h1v1h-1zM192,122h1v1h-1zM195,120h1v1h-1zM199,118h1v1h-1zM202,116h1v1h-1zM206,115h1v1h-1zM210,113h1v1h-1zM213,111h1v1h-1zM217,110h1v1h-1zM221,108h1v1h-1zM224,107h1v1h-1zM228,106h1v1h-1zM232,105h1v1h-1zM236,103h1v1h-1zM240,102h1v1h-1zM244,101h1v1h-1zM247,100h1v1h-1zM251,99h1v1h-1zM255,99h1v1h-1zM259,98h1v1h-1zM263,97h1v1h-1zM267,97h1v1h-1zM271,96h1v1h-1zM275,96h1v1h-1zM279,95h1v1h-1zM283,95h1v1h-1zM287,95h1v1h-1zM291,94h1v1h-1zM295,94h1v1h-1zM299,94h1v1h-1zM303,94h1v1h-1zM307,95h1v1h-1zM311,95h1v1h-1zM315,95h1v1h-1zM319,95h1v1h-1zM323,96h1v1h-1zM327,96h1v1h-1zM331,97h1v1h-1zM335,97h1v1h-1zM339,98h1v1h-1zM343,99h1v1h-1zM347,100h1v1h-1zM350,101h1v1h-1zM354,102h1v1h-1zM358,103h1v1h-1zM362,104h1v1h-1zM366,105h1v1h-1zM370,106h1v1h-1zM373,108h1v1h-1zM377,109h1v1h-1zM381,111h1v1h-1zM385,112h1v1h-1zM388,114h1v1h-1zM392,115h1v1h-1zM395,117h1v1h-1zM399,119h1v1h-1zM403,121h1v1h-1zM406,123h1v1h-1zM410,125h1v1h-1zM413,127h1v1h-1zM416,129h1v1h-1zM420,131h1v1h-1zM423,133h1v1h-1zM426,136h1v1h-1zM430,138h1v1h-1zM433,141h1v1h-1zM436,143h1v1h-1zM439,146h1v1h-1zM442,148h1v1h-1zM445,151h1v1h-1zM448,153h1v1h-1zM451,156h1v1h-1zM454,159h1v1h-1zM456,162h1v1h-1zM459,165h1v1h-1zM462,168h1v1h-1zM465,171h1v1h-1zM467,174h1v1h-1zM470,177h1v1h-1zM472,180h1v1h-1zM474,183h1v1h-1zM477,187h1v1h-1zM479,190h1v1h-1zM481,193h1v1h-1zM484,196h1v1h-1zM486,200h1v1h-1zM488,203h1v1h-1zM490,207h1v1h-1zM492,210h1v1h-1zM493,214h1v1h-1zM495,217h1v1h-1zM497,221h1v1h-1zM499,225h1v1h-1zM500,228h1v1h-1zM502,232h1v1h-1zM503,236h1v1h-1zM505,240h1v1h-1zM506,243h1v1h-1zM507,247h1v1h-1zM508,251h1v1h-1zM509,255h1v1h-1zM511,259h1v1h-1zM511,262h1v1h-1zM512,266h1v1h-1zM513,270h1v1h-1zM514,274h1v1h-1zM515,278h1v1h-1zM515,282h1v1h-1zM516,286h1v1h-1zM516,290h1v1h-1zM517,294h1v1h-1zM517,298h1v1h-1zM517,302h1v1h-1zM517,306h1v1h-1zM518,310h1v1h-1z"/>
<circle cx="298.5" cy="314.5" r="251" fill="none" stroke="#000" stroke-width="1.15"/>
<rect x="47" y="314" width="503" height="1" fill="#000"/>
<rect x="298" y="63" width="1" height="503" fill="#000"/>
<text x="282" y="57" class="cmp">North</text>
<text x="282" y="578" class="cmp">South</text>
<text x="16" y="318" class="cmp">West</text>
<text x="552" y="318" class="cmp">East</text>
<!-- table -->
<text x="594" y="71" class="m">Tot&#160;Num&#160;of&#160;Sources</text><text x="783" y="71" class="m" style="fill:#bababa">0</text>
<text x="594" y="85" class="m">Tot&#160;Min&#160;Freq,&#160;kHz</text><text x="769" y="85" class="m" style="fill:#bababa">N/A</text>
<text x="594" y="99" class="m">Tot&#160;Max&#160;Freq,&#160;kHz</text><text x="769" y="99" class="m" style="fill:#bababa">N/A</text>
<text x="594" y="113" class="m">Tot&#160;Min&#160;Range,&#160;km</text><text x="769" y="113" class="m" style="fill:#bababa">N/A</text>
<text x="594" y="127" class="m">Tot&#160;Max&#160;Range,&#160;km</text><text x="769" y="127" class="m" style="fill:#bababa">N/A</text>
<text x="594" y="141" class="m">Tot&#160;Max&#160;Amp,&#160;dB</text><text x="769" y="141" class="m" style="fill:#bababa">N/A</text>
<text x="594" y="155" class="m">Tot&#160;Max&#160;SNR&#160;Amp,&#160;dB</text><text x="769" y="155" class="m" style="fill:#bababa">N/A</text>
<text x="594" y="169" class="m">Tot&#160;Min&#160;SNR&#160;Amp,&#160;dB</text><text x="769" y="169" class="m" style="fill:#bababa">N/A</text>
<text x="594" y="183" class="m">Tot&#160;Avg&#160;SNR&#160;Amp,&#160;dB</text><text x="769" y="183" class="m" style="fill:#bababa">N/A</text>
<text x="594" y="197" class="m">Tot&#160;Max&#160;RMS&#160;Err,&#160;deg</text><text x="769" y="197" class="m" style="fill:#bababa">N/A</text>
<text x="594" y="211" class="m">Tot&#160;Min&#160;RMS&#160;Err,&#160;deg</text><text x="769" y="211" class="m" style="fill:#bababa">N/A</text>
<text x="594" y="225" class="m">Tot&#160;Avg&#160;RMS&#160;Err,&#160;deg</text><text x="769" y="225" class="m" style="fill:#bababa">N/A</text>
<text x="594" y="239" class="m">Doppler&#160;Res,&#160;Hz</text><text x="748" y="239" class="m" style="fill:#000">0.0723</text>
<text x="594" y="253" class="m">CIT,&#160;sec</text><text x="755" y="253" class="m" style="fill:#000">13.84</text>
<text x="594" y="267" class="m">Num&#160;of&#160;CITs</text><text x="783" y="267" class="m" style="fill:#000">2</text>
<text x="594" y="281" class="m">Polarization</text><text x="748" y="281" class="m" style="fill:#000">O-mode</text>
<text x="594" y="295" class="m">Center&#160;of&#160;Sources,&#160;deg:</text>
<text x="594" y="309" class="m">Tot&#160;&#160;&#160;&#160;&#160;&#160;&#160;&#160;&#160;&#160;&#160;Zenith</text><text x="769" y="309" class="m" style="fill:#bababa">N/A</text>
<text x="594" y="323" class="m">Tot&#160;&#160;&#160;&#160;&#160;&#160;&#160;&#160;&#160;&#160;&#160;Azimuth</text><text x="769" y="323" class="m" style="fill:#bababa">N/A</text>

<path d="M748.3,319 L750.3,320.6 M750.3,320.6 C750.5,317.8 752.5,316.2 753.6,319.8" fill="none" stroke="#000" stroke-width="1.2"/>
<!-- colorbar -->
<rect x="593" y="341" width="15" height="242" fill="url(#jet)"/>
<rect x="608" y="341" width="1" height="242" fill="#000"/>
<rect x="608" y="341" width="7" height="1" fill="#000"/><text x="617.5" y="345" class="cl" textLength="19.5" lengthAdjust="spacingAndGlyphs">4.6</text>
<rect x="608" y="357" width="7" height="1" fill="#000"/>
<rect x="608" y="383" width="7" height="1" fill="#000"/><text x="617.5" y="387" class="cl" textLength="19.5" lengthAdjust="spacingAndGlyphs">3.0</text>
<rect x="608" y="409" width="7" height="1" fill="#000"/><text x="617.5" y="413" class="cl" textLength="19.5" lengthAdjust="spacingAndGlyphs">2.0</text>
<rect x="608" y="435" width="7" height="1" fill="#000"/><text x="617.5" y="439" class="cl" textLength="19.5" lengthAdjust="spacingAndGlyphs">1.0</text>
<rect x="608" y="461" width="7" height="1" fill="#000"/><text x="617.5" y="465" class="cl" textLength="7.7" lengthAdjust="spacingAndGlyphs">0</text>
<rect x="608" y="488" width="7" height="1" fill="#000"/><rect x="618" y="488" width="3.5" height="2" fill="#000"/><text x="622.4" y="492" class="cl" textLength="19.5" lengthAdjust="spacingAndGlyphs">1.0</text>
<rect x="608" y="514" width="7" height="1" fill="#000"/><rect x="618" y="514" width="3.5" height="2" fill="#000"/><text x="622.4" y="518" class="cl" textLength="19.5" lengthAdjust="spacingAndGlyphs">2.0</text>
<rect x="608" y="540" width="7" height="1" fill="#000"/><rect x="618" y="540" width="3.5" height="2" fill="#000"/><text x="622.4" y="544" class="cl" textLength="19.5" lengthAdjust="spacingAndGlyphs">3.0</text>
<rect x="608" y="566" width="7" height="1" fill="#000"/>
<rect x="608" y="582" width="7" height="1" fill="#000"/><rect x="618" y="582" width="3.5" height="2" fill="#000"/><text x="622.4" y="586" class="cl" textLength="19.5" lengthAdjust="spacingAndGlyphs">4.6</text>

<text transform="translate(657.5,492) rotate(-90)" textLength="53" lengthAdjust="spacingAndGlyphs" style="font-family:'Liberation Sans',sans-serif;font-size:9.5px;font-weight:bold;fill:#000;stroke:#000;stroke-width:0.25px">Doppler, Hz</text>
<path d="M669,402.5h7.5M672.75,398.75v7.5" stroke="#0000e0" stroke-width="1.1" fill="none"/>
<text x="682.5" y="406" textLength="45.1" lengthAdjust="spacingAndGlyphs" style="font-family:'Liberation Sans',sans-serif;font-size:10px;font-weight:bold;fill:#0000e0">Positive</text>
<circle cx="673" cy="523.2" r="2.4" stroke="#ee0000" stroke-width="1.1" fill="none"/>
<text x="682.5" y="526" textLength="50.6" lengthAdjust="spacingAndGlyphs" style="font-family:'Liberation Sans',sans-serif;font-size:10px;font-weight:bold;fill:#ee0000">Negative</text>
<!-- footer -->
<text x="12" y="593" class="it">Compass coordinates</text>
<text x="419.5" y="593" class="it">Zenith:&#160;max&#160;40°&#160;<tspan dx="3">step</tspan><tspan dx="-3">&#160;5°</tspan></text>
<text x="654.5" y="593" class="sm" textLength="138" lengthAdjust="spacingAndGlyphs">ShowSkymap v 1.0&#160;&#160;&#160;SD v 4.2</text>
</svg>
</body></html>
